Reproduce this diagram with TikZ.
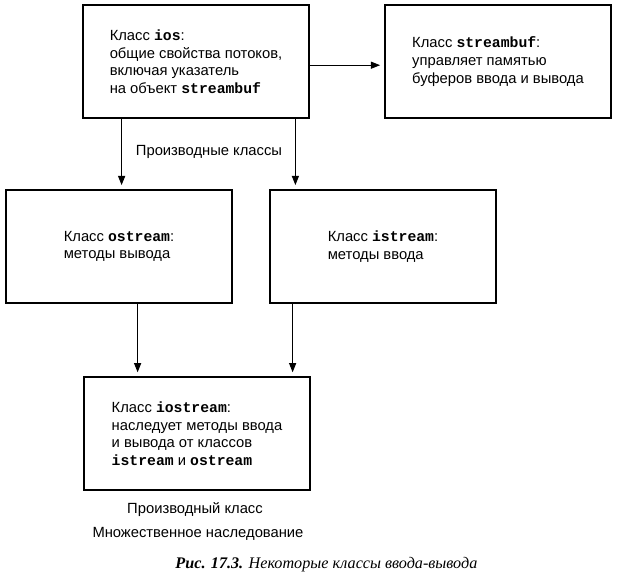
\documentclass[tikz,border=0pt]{standalone}
\usepackage{fontspec}
\setmainfont{Liberation Sans}
\setmonofont{Liberation Mono}
\newfontfamily\capfont{Liberation Serif}
\usetikzlibrary{arrows.meta}
\newcommand{\cl}[1]{\textbf{\texttt{#1}}}

\begin{document}
\begin{tikzpicture}[
    box/.style={draw, line width=1.4pt, minimum width=5.67cm, minimum height=2.84cm,
      align=left, font=\fontsize{10.5}{12.6}\selectfont},
    arr/.style={-{Triangle[length=6.5pt,width=5pt]}, line width=0.7pt, shorten >=2.5pt},
    lbl/.style={font=\fontsize{10.5}{12.6}\selectfont}]
    \useasboundingbox (0,0) rectangle (15.45,-14.45);
    % boxes
    \node[box] (ios) at (4.9,-1.54) {Класс \cl{ios}:\\общие свойства потоков,\\включая указатель\\на объект \cl{streambuf}};
    \node[box] (sbuf) at (12.45,-1.54) {Класс \cl{streambuf}:\\управляет памятью\\буферов ввода и вывода};
    \node[box] (ostr) at (2.975,-6.16) {Класс \cl{ostream}:\\методы вывода};
    \node[box] (istr) at (9.575,-6.16) {Класс \cl{istream}:\\методы ввода};
    \node[box] (iostr) at (4.925,-10.84) {Класс \cl{iostream}:\\наследует методы ввода\\и вывода от классов\\\cl{istream} и \cl{ostream}};
    % arrows
    \draw[arr] ([yshift=-0.09cm]ios.east) -- ([yshift=-0.09cm]sbuf.west);
    \draw[arr] ([xshift=1cm]ios.south west) -- ([xshift=1cm]ios.south west |- ostr.north);
    \draw[arr] ([xshift=-0.375cm]ios.south east) -- ([xshift=-0.375cm]ios.south east |- istr.north);
    \draw[arr] ([xshift=3.325cm]ostr.south west) -- ([xshift=3.325cm]ostr.south west |- iostr.north);
    \draw[arr] ([xshift=0.6cm]istr.south west) -- ([xshift=0.6cm]istr.south west |- iostr.north);
    % labels
    \node[lbl] (deriv) at (5.225,-3.8) {Производные классы};
    \node[lbl] (dcls) at (4.875,-12.75) {Производный класс};
    \node[lbl] (multi) at (4.95,-13.35) {Множественное наследование};
    \node[font=\capfont\fontsize{11.5}{13}\selectfont] (cap) at (8.16,-14.125) {\textbf{\textit{Рис. 17.3.}} \textit{Некоторые классы ввода-вывода}};
\end{tikzpicture}
\end{document}
